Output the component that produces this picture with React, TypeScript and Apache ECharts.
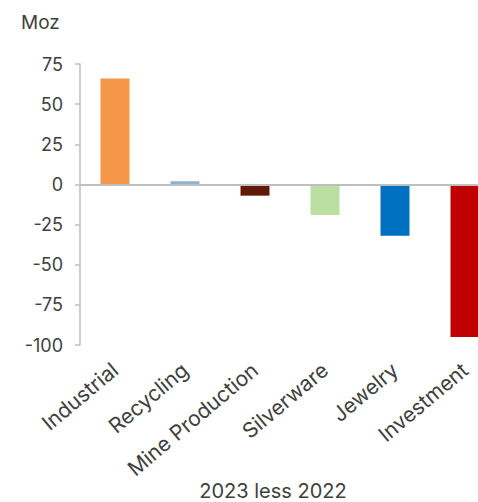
import React, { useEffect, useRef } from "react";
import * as echarts from "echarts";

const categories = ["Industrial", "Recycling", "Mine Production", "Silverware", "Jewelry", "Investment"];
const values = [66, 2, -7, -19, -32, -95];
const colors = ["#F59748", "#8DB4CC", "#611A08", "#BBDFA0", "#0070C0", "#C00000"];
const unitLabel = "Moz";
const axisTitle = "2023 less 2022";

export default function App() {
  const ref = useRef<HTMLDivElement>(null);
  useEffect(() => {
    if (!ref.current) return;
    const chart = echarts.init(ref.current, null, { renderer: "svg" });
    const font = "Inter, 'Noto Sans', sans-serif";
    chart.setOption({
      animation: false,
      grid: { left: 80, top: 64, bottom: 157, right: 0, containLabel: false },
      xAxis: {
        type: "category",
        data: categories,
        position: "bottom",
        axisLine: { show: false, onZero: false },
        axisTick: { show: false },
        axisLabel: {
          rotate: 40,
          margin: 22,
          color: "#404040",
          fontSize: 21,
          fontFamily: font,
          interval: 0,
        },
      },
      yAxis: {
        type: "value",
        min: -100,
        max: 75,
        interval: 25,
        axisLine: { show: true, lineStyle: { color: "#BFBFBF", width: 1.5 } },
        axisTick: { show: true, length: 5, lineStyle: { color: "#BFBFBF", width: 1.5 } },
        splitLine: { show: false },
        axisLabel: { color: "#404040", fontSize: 18, fontFamily: font, margin: 17 },
      },
      graphic: [
        {
          type: "text",
          left: 21,
          top: 13,
          style: { text: unitLabel, fill: "#404040", font: `19px ${font}` },
        },
        {
          type: "text",
          x: 273,
          y: 491,
          style: {
            text: axisTitle,
            fill: "#404040",
            font: `20px ${font}`,
            textAlign: "center",
            textVerticalAlign: "middle",
          },
        },
      ],
      series: [
        {
          type: "bar",
          barWidth: 29,
          data: values.map((v, i) => ({ value: v, itemStyle: { color: colors[i] } })),
          markLine: {
            silent: true,
            symbol: "none",
            label: { show: false },
            lineStyle: { color: "#BFBFBF", width: 2, type: "solid" },
            data: [{ yAxis: 0 }],
          },
        },
      ],
    });
    return () => chart.dispose();
  }, []);
  return (
    <div style={{ position: "absolute", left: 0, top: 0, width: 478, height: 502, overflow: "hidden" }}>
      <div ref={ref} style={{ width: 500, height: 502 }} />
    </div>
  );
}
